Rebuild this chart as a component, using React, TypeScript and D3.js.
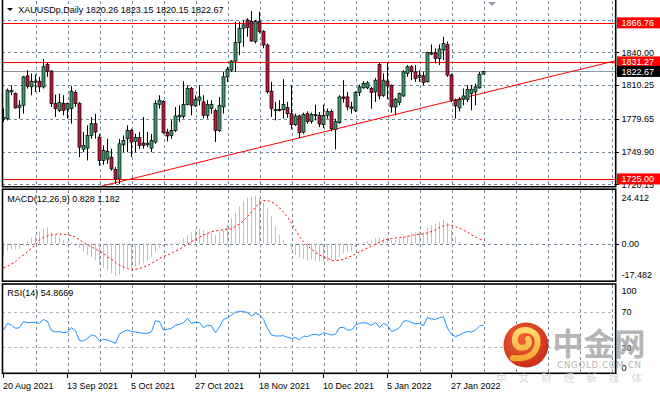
import * as d3 from "d3";

// OHLC, daily XAUUSD from 20 Aug 2021
const candles: [number, number, number, number][] = [
  [1779.0, 1788.9, 1776.7, 1781.0], [1779.7, 1807.1, 1778.2, 1805.6], [1804.0, 1810.0, 1801.0, 1805.5],
  [1802.5, 1803.5, 1788.9, 1789.5], [1790.0, 1796.5, 1779.8, 1792.0], [1791.9, 1818.7, 1784.3, 1817.7],
  [1818.7, 1823.8, 1807.1, 1809.2], [1808.6, 1820.8, 1801.0, 1813.8], [1813.8, 1819.9, 1804.0, 1813.5],
  [1813.8, 1817.7, 1804.0, 1808.6], [1808.6, 1833.9, 1807.1, 1826.9], [1829.0, 1830.5, 1817.7, 1822.9],
  [1822.9, 1823.8, 1790.4, 1793.4], [1793.4, 1801.6, 1781.3, 1788.9], [1787.3, 1802.5, 1785.8, 1794.3],
  [1793.4, 1801.0, 1782.8, 1787.3], [1788.3, 1794.3, 1779.8, 1793.4], [1788.9, 1809.5, 1775.2, 1804.7],
  [1803.5, 1805.6, 1790.4, 1793.4], [1793.4, 1795.0, 1744.8, 1753.9], [1752.0, 1767.6, 1749.3, 1755.5],
  [1753.0, 1773.7, 1741.8, 1764.5], [1764.5, 1781.3, 1761.5, 1775.2], [1775.2, 1784.3, 1761.5, 1767.6],
  [1763.0, 1766.0, 1737.2, 1741.8], [1741.8, 1755.5, 1737.8, 1750.9], [1743.0, 1761.5, 1738.7, 1750.0],
  [1744.8, 1752.4, 1732.6, 1734.1], [1733.5, 1735.7, 1720.4, 1725.0], [1725.6, 1761.5, 1720.4, 1756.9],
  [1756.0, 1764.5, 1749.3, 1760.0], [1761.5, 1773.7, 1749.3, 1769.1], [1769.1, 1770.6, 1744.8, 1758.5],
  [1759.0, 1766.0, 1749.3, 1762.7], [1762.7, 1767.6, 1752.4, 1755.5], [1757.5, 1781.3, 1752.4, 1755.5],
  [1756.0, 1767.6, 1754.0, 1757.5], [1753.0, 1766.0, 1749.3, 1760.0], [1758.5, 1796.5, 1757.0, 1793.4],
  [1792.5, 1801.0, 1788.9, 1796.5], [1795.5, 1796.5, 1766.0, 1767.0], [1767.6, 1770.6, 1759.0, 1764.0],
  [1764.5, 1778.2, 1761.5, 1769.1], [1769.1, 1790.4, 1767.6, 1782.2], [1781.3, 1791.9, 1776.7, 1782.8],
  [1781.9, 1813.8, 1779.8, 1792.5], [1792.5, 1810.1, 1791.9, 1807.1], [1807.1, 1808.6, 1782.8, 1791.9],
  [1791.3, 1801.0, 1790.4, 1797.4], [1796.5, 1810.1, 1791.9, 1799.5], [1795.0, 1801.0, 1779.8, 1782.8],
  [1782.8, 1796.5, 1779.8, 1792.5], [1788.9, 1796.5, 1784.3, 1792.5], [1787.3, 1788.9, 1758.5, 1769.1],
  [1769.1, 1799.5, 1767.6, 1791.9], [1790.4, 1822.3, 1784.3, 1817.7], [1817.7, 1826.9, 1813.0, 1824.7],
  [1823.8, 1832.9, 1822.3, 1832.0], [1832.0, 1867.9, 1822.3, 1849.0], [1849.0, 1867.9, 1837.5, 1861.8],
  [1861.8, 1869.4, 1845.0, 1864.9], [1869.4, 1870.9, 1854.2, 1862.4], [1867.9, 1877.6, 1849.7, 1850.3],
  [1849.7, 1869.4, 1848.1, 1867.9], [1867.9, 1877.0, 1857.3, 1858.8], [1858.8, 1860.3, 1843.6, 1846.6],
  [1846.6, 1848.1, 1802.5, 1804.1], [1804.7, 1813.2, 1781.3, 1788.9], [1787.9, 1795.0, 1778.2, 1788.0],
  [1788.0, 1796.5, 1786.4, 1787.9], [1787.9, 1815.6, 1779.8, 1792.5], [1789.8, 1795.0, 1780.4, 1784.3],
  [1784.3, 1810.1, 1770.0, 1774.3], [1774.3, 1784.3, 1773.1, 1782.2], [1782.2, 1783.4, 1762.1, 1767.0],
  [1767.6, 1785.2, 1766.0, 1783.4], [1784.3, 1786.4, 1775.2, 1777.3], [1777.3, 1785.2, 1775.2, 1783.4],
  [1782.8, 1792.5, 1778.2, 1783.4], [1782.8, 1785.8, 1772.1, 1774.9], [1774.3, 1792.5, 1771.2, 1782.8],
  [1782.8, 1788.9, 1779.8, 1786.4], [1786.4, 1788.3, 1768.2, 1770.6], [1770.0, 1779.8, 1751.8, 1777.3],
  [1776.1, 1801.0, 1775.2, 1799.5], [1799.5, 1814.7, 1794.3, 1798.0], [1799.5, 1804.1, 1787.3, 1790.4],
  [1790.4, 1795.0, 1784.3, 1788.9], [1787.3, 1804.7, 1785.8, 1803.5], [1803.5, 1810.7, 1800.4, 1808.6],
  [1807.7, 1813.8, 1807.1, 1811.7], [1807.7, 1813.8, 1806.5, 1812.3], [1807.1, 1808.6, 1788.9, 1803.5],
  [1804.1, 1816.8, 1794.9, 1814.7], [1829.0, 1830.8, 1797.4, 1800.4], [1801.0, 1820.8, 1799.5, 1814.7],
  [1813.8, 1830.8, 1797.4, 1809.5], [1810.1, 1810.7, 1785.2, 1790.4], [1790.4, 1798.6, 1782.8, 1797.4],
  [1794.3, 1803.5, 1791.9, 1802.5], [1800.4, 1823.8, 1799.5, 1822.3], [1820.8, 1828.4, 1817.7, 1826.9],
  [1826.9, 1828.4, 1814.7, 1822.3], [1822.3, 1828.4, 1813.2, 1816.2], [1817.0, 1823.8, 1813.2, 1819.0],
  [1818.7, 1822.3, 1810.1, 1812.6], [1813.2, 1840.5, 1812.6, 1839.9], [1839.6, 1847.2, 1837.5, 1838.4],
  [1839.6, 1843.6, 1829.9, 1834.5], [1834.5, 1847.2, 1828.4, 1843.0], [1842.1, 1854.2, 1832.9, 1848.1],
  [1847.2, 1849.7, 1817.7, 1819.3], [1819.3, 1820.8, 1794.9, 1796.5], [1796.5, 1798.0, 1779.8, 1791.3],
  [1789.5, 1799.5, 1786.4, 1797.1], [1797.4, 1807.1, 1791.9, 1800.4], [1797.4, 1810.1, 1794.9, 1806.5],
  [1802.5, 1810.1, 1787.3, 1806.5], [1804.1, 1811.7, 1791.9, 1808.6], [1807.7, 1822.3, 1807.1, 1819.9],
  [1820.26, 1823.15, 1820.15, 1822.67],
];

const macdMain = [
  -6.0, -3.2, -2.6, -2.8, -2.5, -0.8, 1.2, 2.8, 4.0, 5.5, 6.7, 7.3, 5.5, 4.0, 2.8, 1.7, 1.2, 0.6, 0.2, -2.1,
  -3.7, -5.2, -6.0, -7.5, -9.8, -11.0, -12.0, -13.5, -14.6, -14.0, -12.0, -11.0, -11.3, -10.6, -9.5, -9.0,
  -7.5, -6.0, -3.7, -2.1, -1.5, -1.0, -0.6, 0.3, 0.6, 2.5, 4.0, 5.5, 6.3, 6.7, 6.3, 5.5, 4.8, 4.0, 5.5, 6.3,
  8.6, 11.7, 14.0, 17.0, 19.3, 20.9, 21.2, 21.6, 20.9, 18.6, 16.3, 12.4, 7.8, 4.0, 1.7, 0.0, -2.9, -5.2,
  -6.4, -7.1, -7.5, -7.1, -8.0, -8.3, -8.0, -8.0, -7.5, -7.5, -6.0, -4.4, -3.7, -3.4, -1.4, -0.3, 0.6, 1.2,
  1.5, 2.5, 2.8, 2.5, 2.5, 1.7, 1.7, 2.1, 3.2, 4.0, 4.8, 5.2, 5.5, 5.2, 7.4, 8.3, 8.9, 9.8, 10.9, 9.8, 6.7,
  3.2, 0.9, 0.2, -0.1, -0.3, -0.1, 0.1, 0.828,
];

const macdSignal = [
  -11.0, -10.3, -9.2, -8.3, -6.4, -5.2, -3.7, -2.1, -0.6, 1.7, 2.8, 3.5, 4.0, 4.3, 4.3, 4.3, 4.0, 3.7, 2.9,
  1.8, 0.6, -0.6, -1.5, -2.5, -3.4, -4.6, -6.0, -7.1, -8.6, -9.8, -10.6, -11.3, -12.0, -11.7, -11.3, -10.7,
  -10.0, -9.0, -8.0, -6.7, -5.8, -5.2, -4.4, -3.4, -2.5, -1.4, -0.3, 0.9, 2.0, 2.9, 4.0, 4.6, 5.4, 5.8, 6.1,
  6.3, 6.6, 6.7, 7.8, 8.9, 10.4, 12.4, 14.4, 16.6, 18.6, 19.6, 19.6, 19.0, 17.8, 16.3, 14.4, 12.0, 9.4, 6.3,
  3.2, 0.9, -0.9, -2.5, -4.0, -5.2, -6.1, -6.7, -7.7, -7.7, -7.5, -7.1, -6.4, -5.7, -4.8, -3.7, -2.9, -2.1,
  -1.2, -0.2, 0.6, 1.4, 2.0, 2.3, 2.6, 2.8, 2.9, 3.2, 3.7, 4.0, 4.3, 4.4, 4.9, 5.5, 6.4, 7.4, 8.1, 8.4, 8.3,
  7.7, 7.1, 6.1, 5.2, 4.0, 3.0, 2.1, 1.182,
];

const rsi = [
  49.4, 56.9, 55.0, 51.3, 52.1, 58.8, 57.7, 58.0, 58.0, 56.9, 61.4, 58.8, 48.7, 47.2, 47.6, 46.4, 47.2, 52.1,
  48.7, 37.5, 37.1, 40.1, 43.8, 42.7, 37.1, 39.0, 38.2, 36.4, 34.5, 45.0, 47.6, 49.4, 47.6, 47.2, 46.4, 45.7,
  45.7, 47.6, 59.9, 58.8, 49.4, 50.2, 51.3, 55.0, 55.8, 57.7, 62.5, 56.9, 58.0, 57.7, 52.1, 55.0, 53.9, 46.4,
  53.2, 61.4, 63.3, 66.3, 69.3, 70.4, 70.4, 68.9, 65.1, 68.1, 66.6, 61.4, 51.3, 43.8, 42.7, 42.7, 43.1, 41.2,
  40.1, 40.8, 38.2, 42.7, 42.0, 44.2, 44.6, 43.5, 46.4, 45.0, 43.8, 45.0, 52.1, 52.4, 49.4, 49.4, 55.0, 56.9,
  57.7, 56.9, 54.7, 58.0, 52.1, 56.9, 54.7, 47.6, 49.4, 52.1, 59.2, 59.9, 57.7, 56.5, 56.9, 54.3, 63.6, 61.8,
  61.4, 63.3, 64.4, 51.3, 44.6, 42.0, 43.8, 46.4, 47.6, 47.2, 49.4, 53.9, 54.87,
];

const dateTicks = [
  { bar: 0, label: "20 Aug 2021" }, { bar: 16, label: "13 Sep 2021" }, { bar: 32, label: "5 Oct 2021" },
  { bar: 48, label: "27 Oct 2021" }, { bar: 64, label: "18 Nov 2021" }, { bar: 80, label: "10 Dec 2021" },
  { bar: 96, label: "5 Jan 2022" }, { bar: 112, label: "27 Jan 2022" },
];
const priceGrid = [1869.75, 1840.0, 1810.25, 1779.65, 1749.9, 1720.15];
const priceLabels = ["", "1840.00", "1810.25", "1779.65", "1749.90", "1720.15"];
const hLevels = [1866.76, 1831.27, 1725.0];
const bidPrice = 1822.67;
const trendPoints = [
  { bar: 28, price: 1721.6 },
  { bar: 112, price: 1796.0 },
];
const macdRange = [-17.482, 24.412];
const rsiLevels = [70, 30];

const FONT = "'Liberation Sans', Arial, sans-serif";
const GRID = "#778899";
const BULL = "#3b9c6a";
const BEAR = "#c0183c";
const X0 = 2;
const X1 = 616;

export default function App() {
  const x = d3.scaleLinear().domain([0, 1]).range([3.5, 7.5]);
  const yP = d3.scaleLinear().domain([1718.6, 1885.7]).range([186, 2]);
  const yM = d3.scaleLinear().domain(macdRange).range([282, 190]);
  const yR = d3.scaleLinear().domain([0, 100]).range([374, 285]);

  const vGrid = d3.range(8, 160, 8).map((b) => x(b)).filter((v) => v < X1);

  const signalLine = d3.line<number>().x((_, i) => x(i)).y((d) => yM(d));
  const rsiLine = d3.line<number>().x((_, i) => x(i)).y((d) => yR(d));

  const tSlope = (trendPoints[1].price - trendPoints[0].price) / (trendPoints[1].bar - trendPoints[0].bar);
  const tAt = (b: number) => trendPoints[0].price + (b - trendPoints[0].bar) * tSlope;
  const tb0 = 15;
  const tb1 = 160;

  const t = (s: string, px: number, py: number, fill = "#000", anchor = "start") => (
    <text x={px} y={py} fill={fill} fontFamily={FONT} fontSize={9} textAnchor={anchor}>
      {s}
    </text>
  );

  const vlines = (top: number, bottom: number) =>
    vGrid.map((gx, i) => (
      <line key={i} x1={Math.round(gx) + 0.5} x2={Math.round(gx) + 0.5} y1={top} y2={bottom}
        stroke={GRID} strokeDasharray="3,3" />
    ));

  const boxLabel = (p: number, bg: string) => {
    const cy = yP(p);
    return (
      <g key={p}>
        <rect x={617} y={cy - 5.5} width={43} height={11} fill={bg} />
        {t(p.toFixed(2), 621.5, cy + 3.3, "#fff")}
      </g>
    );
  };

  return (
    <div style={{ position: "fixed", left: 0, top: 0 }}>
      <svg width={660} height={395} viewBox="0 0 660 395" style={{ display: "block", background: "#fff" }}>
        <defs>
          <clipPath id="cp"><rect x={X0} y={1} width={X1 - X0} height={185} /></clipPath>
          <clipPath id="cm"><rect x={X0} y={190} width={X1 - X0} height={91} /></clipPath>
          <clipPath id="cr"><rect x={X0} y={285} width={X1 - X0} height={88} /></clipPath>
          <radialGradient id="lg" cx="40%" cy="35%" r="70%">
            <stop offset="0%" stopColor="#f05a28" />
            <stop offset="100%" stopColor="#c8200f" />
          </radialGradient>
          <linearGradient id="sw" x1="0" y1="0" x2="0" y2="1">
            <stop offset="0%" stopColor="#ffd86a" />
            <stop offset="100%" stopColor="#f2a526" />
          </linearGradient>
        </defs>

        {/* price panel */}
        <g clipPath="url(#cp)">
          {vlines(1, 186)}
          {priceGrid.map((p) => (
            <line key={p} x1={X0} x2={X1} y1={Math.round(yP(p)) + 0.5} y2={Math.round(yP(p)) + 0.5}
              stroke={GRID} strokeDasharray="3,3" />
          ))}
          <line x1={X0} x2={X1} y1={Math.round(yP(bidPrice)) + 0.5} y2={Math.round(yP(bidPrice)) + 0.5} stroke="#8a96a3" />
          {hLevels.map((p) => (
            <line key={p} x1={X0} x2={X1} y1={Math.round(yP(p)) + 0.5} y2={Math.round(yP(p)) + 0.5} stroke="#ff0000" />
          ))}
          <line x1={x(tb0)} y1={yP(tAt(tb0))} x2={x(tb1)} y2={yP(tAt(tb1))} stroke="#ff0000" />
          {candles.map(([o, h, l, c], i) => {
            const cx = x(i);
            const top = yP(Math.max(o, c));
            const bot = yP(Math.min(o, c));
            return (
              <g key={i}>
                <line x1={cx} x2={cx} y1={yP(h)} y2={yP(l)} stroke="#000" />
                <rect x={cx - 1.5} y={top} width={3} height={Math.max(1, bot - top)}
                  fill={c >= o ? BULL : BEAR} stroke="#000" strokeWidth={0.7} />
              </g>
            );
          })}
        </g>
        <polygon points="7,8 13,8 10,11" fill="#000" />
        {t("XAUUSDp,Daily  1820.26 1823.15 1820.15 1822.67", 18.3, 12.6)}
        <polygon points="488,2 496,2 492,6" fill="#9aa0a8" />

        {/* MACD panel */}
        <g clipPath="url(#cm)">
          {vlines(190, 281)}
          <line x1={X0} x2={X1} y1={Math.round(yM(0)) + 0.5} y2={Math.round(yM(0)) + 0.5} stroke={GRID} strokeDasharray="3,3" />
          {macdMain.map((v, i) => (
            <line key={i} x1={x(i)} x2={x(i)} y1={yM(0)} y2={yM(v)} stroke="#c0c0c0" />
          ))}
          <path d={signalLine(macdSignal) ?? ""} fill="none" stroke="#ff0000" strokeDasharray="2,2.5" />
        </g>
        {t("MACD(12,26,9) 0.828 1.182", 7.3, 201.6)}

        {/* RSI panel */}
        <g clipPath="url(#cr)">
          {vlines(285, 373)}
          {rsiLevels.map((v) => (
            <line key={v} x1={X0} x2={X1} y1={Math.round(yR(v)) + 0.5} y2={Math.round(yR(v)) + 0.5} stroke="#b4b4b4" strokeDasharray="3,3" />
          ))}
          <path d={rsiLine(rsi) ?? ""} fill="none" stroke="#1e90ff" />
        </g>
        {t("RSI(14) 54.8669", 7.3, 296)}

        {/* panel borders */}
        <path d="M2.5,0 V186.7 H615.7 V0" fill="none" stroke="#000" strokeWidth={1.6} />
        <rect x={2.5} y={189.2} width={613.2} height={92} fill="none" stroke="#000" strokeWidth={1.6} />
        <rect x={2.5} y={284} width={613.2} height={89.3} fill="none" stroke="#000" strokeWidth={1.6} />

        {/* right axes */}
        {priceGrid.map((p, i) =>
          priceLabels[i] ? (
            <g key={p}>
              <line x1={616} x2={619} y1={Math.round(yP(p)) + 0.5} y2={Math.round(yP(p)) + 0.5} stroke="#000" />
              {t(priceLabels[i], 621.5, yP(p) + 3.3)}
            </g>
          ) : null
        )}
        {boxLabel(1866.76, "#ff0000")}
        {boxLabel(1831.27, "#ff0000")}
        {boxLabel(bidPrice, "#000")}
        {boxLabel(1725.0, "#ff0000")}

        {t("24.412", 621.5, yM(macdRange[1]) + 10.5)}
        {t("0.00", 621.5, yM(0) + 3.3)}
        {t("-17.482", 621.5, yM(macdRange[0]) - 4.5)}
        <line x1={616} x2={619} y1={Math.round(yM(0)) + 0.5} y2={Math.round(yM(0)) + 0.5} stroke="#000" />

        {t("100", 621.5, yR(100) + 9)}
        {t("70", 621.5, yR(70) + 3.3)}
        {t("30", 621.5, yR(30) + 3.3)}
        {t("0", 621.5, yR(0) - 3.5)}

        {/* date axis */}
        {dateTicks.map((d) => (
          <g key={d.bar}>
            <line x1={Math.round(x(d.bar)) - 0.5} x2={Math.round(x(d.bar)) - 0.5} y1={373} y2={378} stroke="#000" />
            {t(d.label, x(d.bar) - 0.5, 388.5)}
          </g>
        ))}

        {/* watermark */}
        <g opacity={0.95}>
          <circle cx={526} cy={345} r={22.5} fill="url(#lg)" />
          <path d="M513,358 Q533,360 537,346 Q540,332 526,330 Q514,330 515,342 Q517,350 526,347 Q531,344 528,339"
            fill="none" stroke="url(#sw)" strokeWidth={6} strokeLinecap="round" />
        </g>
        <g opacity={0.85}>
          <text x={599} y={355} fill="#a9a9a9" fontFamily="'Noto Sans CJK SC'" fontWeight={700} fontSize={31} textAnchor="middle">中金网</text>
          <text x={599.5} y={367.5} fill="#a9a9a9" fontFamily="'DejaVu Sans', sans-serif" fontSize={8.6} textAnchor="middle" letterSpacing={0.7}>CNGOLD.COM.CN</text>
          <text x={575} y={382} fill="#d0d0d0" fontFamily="'Noto Sans CJK SC'" fontSize={10.5} textAnchor="middle" letterSpacing={12}>中文财经新媒体</text>
        </g>
      </svg>
    </div>
  );
}
